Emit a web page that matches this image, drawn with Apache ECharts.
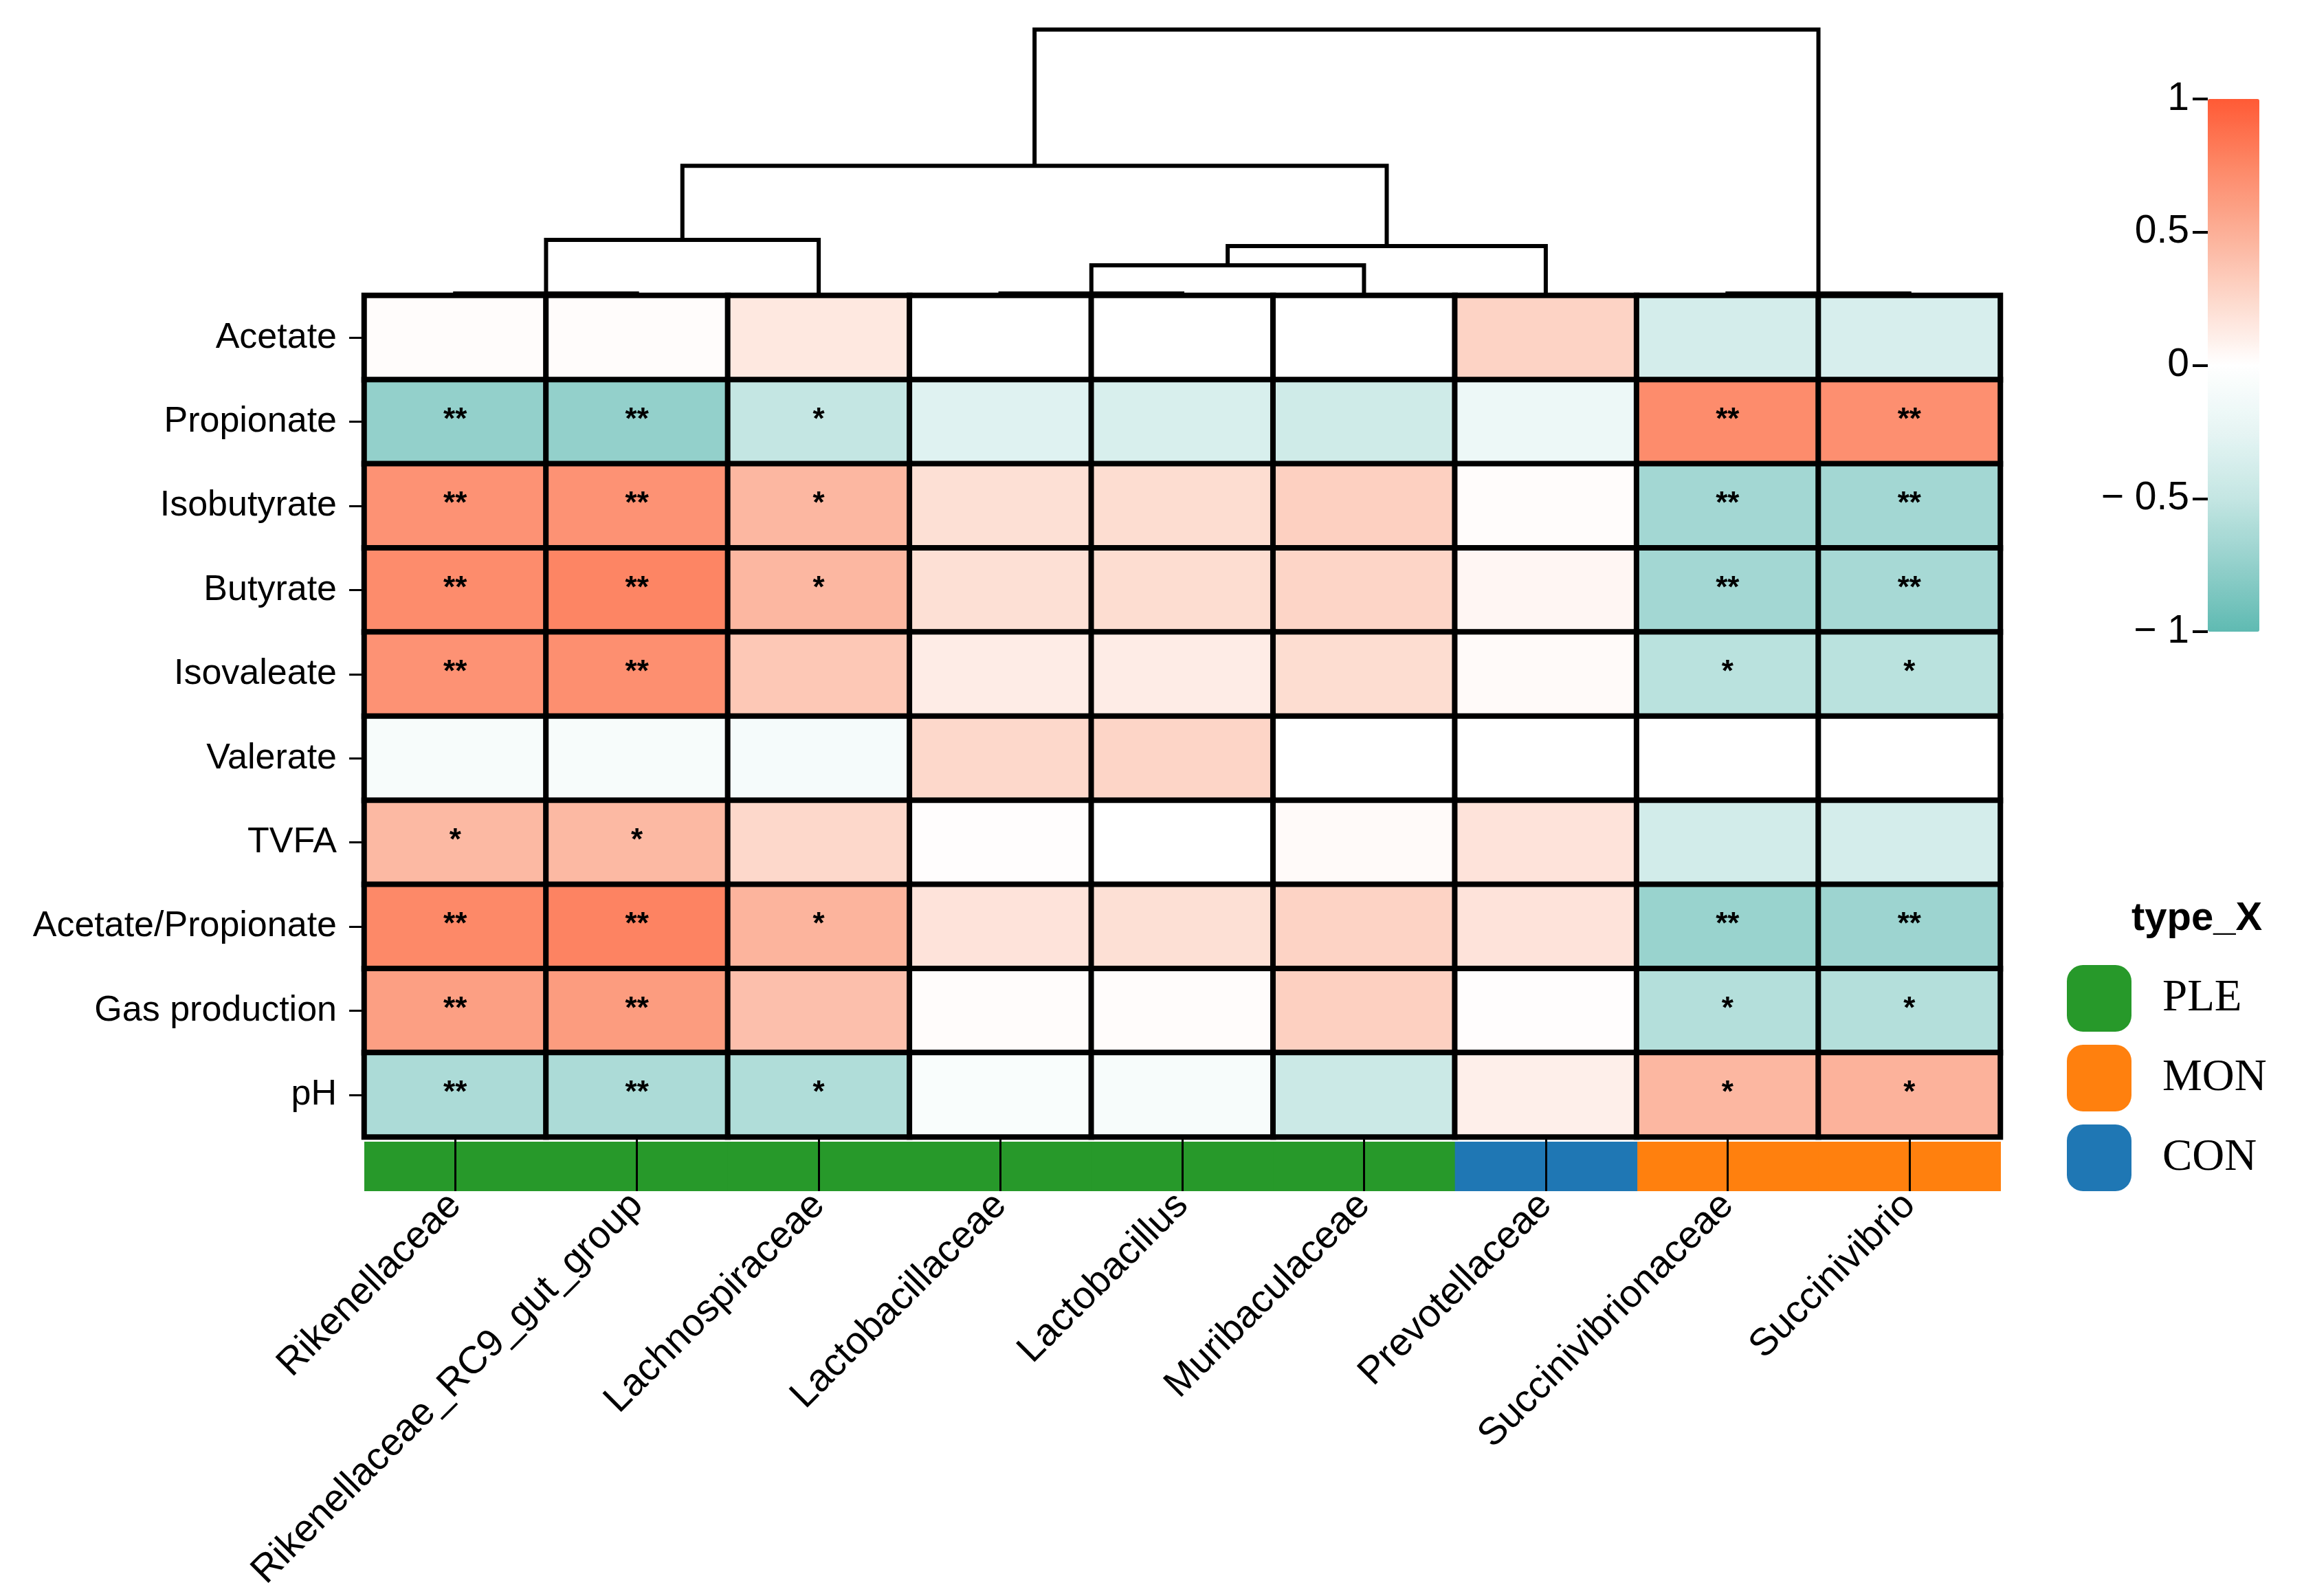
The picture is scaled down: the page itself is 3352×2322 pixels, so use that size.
<!DOCTYPE html>
<html>
<head>
<meta charset="utf-8">
<script src="https://cdn.jsdelivr.net/npm/echarts@6/dist/echarts.min.js"></script>
<style>
html,body{margin:0;padding:0;background:#fff;}
#chart{width:3352px;height:2322px;}
</style>
</head>
<body>
<div id="chart"></div>
<script>
// ---------------- data ----------------
const rows = ['Acetate','Propionate','Isobutyrate','Butyrate','Isovaleate','Valerate','TVFA','Acetate/Propionate','Gas production','pH'];
const cols = ['Rikenellaceae','Rikenellaceae_RC9_gut_group','Lachnospiraceae','Lactobacillaceae','Lactobacillus','Muribaculaceae','Prevotellaceae','Succinivibrionaceae','Succinivibrio'];
const colGroup = ['PLE','PLE','PLE','PLE','PLE','PLE','CON','MON','MON'];
const groups = ['PLE','MON','CON'];
const groupColors = {PLE:'#27992a', MON:'#ff800e', CON:'#1f77b4'};

const corrAcetate     = [0.02, 0.02, 0.15, 0.00, 0.00, 0.00, 0.28, -0.38, -0.36];
const corrPropionate  = [-0.75, -0.75, -0.50, -0.30, -0.35, -0.42, -0.18, 0.72, 0.70];
const corrIsobutyrate = [0.68, 0.68, 0.45, 0.20, 0.22, 0.30, 0.02, -0.67, -0.67];
const corrButyrate    = [0.72, 0.76, 0.45, 0.20, 0.22, 0.27, 0.06, -0.67, -0.65];
const corrIsovaleate  = [0.68, 0.70, 0.35, 0.12, 0.12, 0.22, 0.03, -0.55, -0.55];
const corrValerate    = [-0.08, -0.08, -0.10, 0.25, 0.27, 0.00, 0.00, 0.00, 0.00];
const corrTVFA        = [0.44, 0.44, 0.25, 0.01, 0.00, 0.03, 0.18, -0.40, -0.38];
const corrAP          = [0.74, 0.77, 0.47, 0.18, 0.20, 0.28, 0.18, -0.72, -0.70];
const corrGas         = [0.60, 0.62, 0.40, 0.02, 0.02, 0.30, 0.01, -0.58, -0.58];
const corrPH          = [-0.62, -0.62, -0.60, -0.06, -0.08, -0.45, 0.10, 0.45, 0.48];
const corr = [corrAcetate, corrPropionate, corrIsobutyrate, corrButyrate, corrIsovaleate, corrValerate, corrTVFA, corrAP, corrGas, corrPH];

const sigAcetate     = ['','','','','','','','',''];
const sigPropionate  = ['**','**','*','','','','','**','**'];
const sigIsobutyrate = ['**','**','*','','','','','**','**'];
const sigButyrate    = ['**','**','*','','','','','**','**'];
const sigIsovaleate  = ['**','**','','','','','','*','*'];
const sigValerate    = ['','','','','','','','',''];
const sigTVFA        = ['*','*','','','','','','',''];
const sigAP          = ['**','**','*','','','','','**','**'];
const sigGas         = ['**','**','','','','','','*','*'];
const sigPH          = ['**','**','*','','','','','*','*'];
const sig = [sigAcetate, sigPropionate, sigIsobutyrate, sigButyrate, sigIsovaleate, sigValerate, sigTVFA, sigAP, sigGas, sigPH];

// column dendrogram linkage: [childA, childB, height]; leaves 0..8, new nodes 9..
const linkage = [
  [0, 1, 0.008],
  [3, 4, 0.008],
  [7, 8, 0.008],
  [9, 2, 0.209],
  [10, 5, 0.114],
  [13, 6, 0.186],
  [12, 14, 0.488],
  [15, 11, 1.0]
];

const colorStops = ['#5fbab2','#93d0cb','#c4e6e3','#e6f5f4','#ffffff','#fdd8cb','#fcaf97','#fd8766','#ff5a35'];

// ---------------- build ----------------
const heatData = [];
for (let r = 0; r < rows.length; r++) {
  for (let c = 0; c < cols.length; c++) {
    heatData.push([c, r, corr[r][c]]);
  }
}

const nodeX = {}, nodeH = {};
for (let i = 0; i < cols.length; i++) { nodeX[i] = i + 0.5; nodeH[i] = 0; }
const dendroData = [];
linkage.forEach((m, k) => {
  const id = cols.length + k;
  const a = m[0], b = m[1], h = m[2];
  dendroData.push([nodeX[a], nodeX[b], nodeH[a], nodeH[b], h]);
  nodeX[id] = (nodeX[a] + nodeX[b]) / 2;
  nodeH[id] = h;
});

const FONT = 'Liberation Sans, Arial, sans-serif';

const annotSeries = groups.map(g => ({
  name: g,
  type: 'custom',
  xAxisIndex: 1,
  yAxisIndex: 1,
  itemStyle: {color: groupColors[g]},
  data: colGroup.map((gg, i) => gg === g ? [i, 0] : null).filter(d => d),
  renderItem: function (params, api) {
    const c = api.coord([api.value(0), 0]);
    const s = api.size([1, 1]);
    return {
      type: 'rect',
      shape: {x: c[0] - s[0] / 2, y: c[1] - s[1] / 2, width: s[0] + 1, height: s[1]},
      style: {fill: api.visual('color')}
    };
  },
  silent: true
}));

const option = {
  animation: false,
  backgroundColor: '#ffffff',
  title: {
    text: 'type_X', left: 3101, top: 1308, padding: 0,
    textStyle: {fontFamily: FONT, fontWeight: 'bold', fontSize: 58, color: '#000'}
  },
  legend: {
    orient: 'vertical', left: 3007, top: 1404, padding: 0,
    itemWidth: 94, itemHeight: 97, itemGap: 19,
    selectedMode: false,
    data: groups.map(g => ({name: g, icon: 'roundRect'})),
    textStyle: {fontFamily: 'Liberation Serif, Times New Roman, serif', fontSize: 65, color: '#000', padding: [0, 0, 0, 40]}
  },
  grid: [
    {left: 530, top: 430, width: 2380, height: 1224},
    {left: 530, top: 1661, width: 2380, height: 72},
    {left: 530, top: 43, width: 2380, height: 387},
    {left: 3212, top: 144, width: 75, height: 775}
  ],
  xAxis: [
    {type: 'category', gridIndex: 0, data: cols, axisLine: {show: false}, axisTick: {show: false}, axisLabel: {show: false}, splitLine: {show: false}},
    {type: 'category', gridIndex: 1, data: cols, position: 'bottom', z: 10,
     axisLine: {show: false},
     axisTick: {show: true, inside: true, alignWithLabel: true, length: 79, lineStyle: {color: '#000', width: 3}},
     axisLabel: {rotate: 45, margin: 12, fontFamily: FONT, fontSize: 56, color: '#000', interval: 0}},
    {type: 'value', gridIndex: 2, min: 0, max: 9, show: false},
    {type: 'value', gridIndex: 3, min: 0, max: 1, show: false}
  ],
  yAxis: [
    {type: 'category', gridIndex: 0, data: rows, inverse: true,
     axisLine: {show: false},
     axisTick: {show: true, alignWithLabel: true, length: 22, lineStyle: {color: '#000', width: 3}},
     axisLabel: {margin: 40, fontFamily: FONT, fontSize: 52, color: '#000', interval: 0}},
    {type: 'category', gridIndex: 1, data: ['type_X'], show: false},
    {type: 'value', gridIndex: 2, min: 0, max: 1, show: false},
    {type: 'value', gridIndex: 3, min: -1, max: 1, interval: 0.5, position: 'left',
     axisLine: {show: false}, splitLine: {show: false},
     axisTick: {show: true, length: 22, lineStyle: {color: '#000', width: 4}},
     axisLabel: {margin: 27, fontFamily: FONT, fontSize: 57, color: '#000',
       formatter: v => v < 0 ? '\u2212 ' + Math.abs(v) : String(v)}}
  ],
  visualMap: {
    type: 'continuous', min: -1, max: 1, seriesIndex: 0,
    left: 3212, top: 144, itemWidth: 75, itemHeight: 775, padding: 0,
    calculable: false, text: null, showLabel: false, hoverLink: false,
    inRange: {color: colorStops}
  },
  series: [
    {
      type: 'heatmap', xAxisIndex: 0, yAxisIndex: 0, data: heatData,
      itemStyle: {borderColor: '#000', borderWidth: 8},
      label: {show: true, fontFamily: FONT, fontSize: 44, fontWeight: 'bold', color: '#000', offset: [0, -2],
              formatter: p => sig[p.value[1]][p.value[0]]},
      emphasis: {disabled: true},
      silent: true
    },
    {
      type: 'custom', xAxisIndex: 2, yAxisIndex: 2, data: dendroData, silent: true,
      encode: {x: [0, 1], y: [2, 3, 4]},
      renderItem: function (params, api) {
        const p1 = api.coord([api.value(0), api.value(2)]);
        const p2 = api.coord([api.value(0), api.value(4)]);
        const p3 = api.coord([api.value(1), api.value(4)]);
        const p4 = api.coord([api.value(1), api.value(3)]);
        return {type: 'polyline', shape: {points: [p1, p2, p3, p4]}, style: {stroke: '#000', lineWidth: 6, fill: null}};
      }
    }
  ].concat(annotSeries)
};

const chart = echarts.init(document.getElementById('chart'), null, {renderer: 'canvas'});
chart.setOption(option);
</script>
</body>
</html>
